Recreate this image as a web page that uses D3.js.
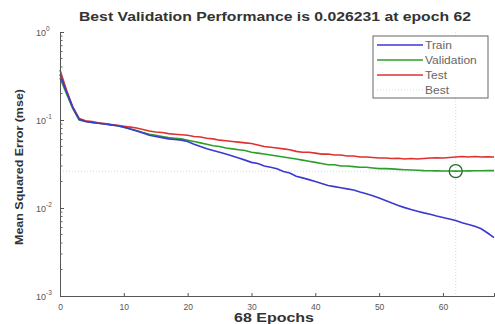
<!DOCTYPE html>
<html>
<head>
<meta charset="utf-8">
<script src="https://cdn.jsdelivr.net/npm/d3@7"></script>
<style>
  body { margin: 0; background: #fff; }
  svg text { font-family: "Liberation Sans", Arial, sans-serif; }
</style>
</head>
<body>
<div id="graphicContainer"></div>
<script>
// epochs 0..68
var epochs = d3.range(0, 69)

var train = [0.33, 0.21, 0.14, 0.102, 0.096, 0.094, 0.092, 0.090, 0.088, 0.086,
	0.083, 0.079, 0.075, 0.071, 0.067, 0.065, 0.063, 0.061, 0.060, 0.059,
	0.057, 0.053, 0.050, 0.047, 0.045, 0.043, 0.041, 0.039, 0.037, 0.035,
	0.033, 0.032, 0.030, 0.029, 0.028, 0.026, 0.025, 0.023, 0.022, 0.021,
	0.020, 0.019, 0.018, 0.0175, 0.017, 0.0165, 0.016, 0.0152, 0.0145, 0.0138,
	0.013, 0.0122, 0.0114, 0.0107, 0.0101, 0.0096, 0.0092, 0.0088, 0.0085, 0.0081,
	0.0078, 0.0075, 0.0072, 0.0068, 0.0065, 0.0062, 0.0058, 0.0052, 0.0046]

var validation = [0.30, 0.20, 0.135, 0.10, 0.096, 0.094, 0.092, 0.090, 0.088, 0.086,
	0.083, 0.079, 0.076, 0.072, 0.069, 0.067, 0.065, 0.063, 0.062, 0.061,
	0.059, 0.057, 0.055, 0.053, 0.051, 0.050, 0.048, 0.047, 0.046, 0.045,
	0.043, 0.042, 0.041, 0.040, 0.039, 0.038, 0.037, 0.036, 0.035, 0.034,
	0.033, 0.032, 0.031, 0.031, 0.030, 0.030, 0.0295, 0.029, 0.029, 0.0285,
	0.028, 0.028, 0.0278, 0.0275, 0.0272, 0.027, 0.0268, 0.0266, 0.0265, 0.0264,
	0.0263, 0.0263, 0.026231, 0.0263, 0.0264, 0.0265, 0.0265, 0.0266, 0.0266]

var test = [0.37, 0.22, 0.14, 0.104, 0.098, 0.096, 0.093, 0.091, 0.089, 0.087,
	0.085, 0.083, 0.081, 0.078, 0.075, 0.073, 0.072, 0.070, 0.069, 0.068,
	0.067, 0.065, 0.064, 0.062, 0.061, 0.059, 0.058, 0.057, 0.056, 0.055,
	0.054, 0.052, 0.050, 0.049, 0.048, 0.047, 0.046, 0.044, 0.043, 0.043,
	0.042, 0.041, 0.041, 0.040, 0.040, 0.039, 0.039, 0.038, 0.038, 0.0375,
	0.037, 0.037, 0.0365, 0.0368, 0.036, 0.0365, 0.036, 0.0365, 0.037, 0.0372,
	0.037, 0.0375, 0.038, 0.0385, 0.038, 0.0385, 0.038, 0.0382, 0.038]

var bestEpoch = 62
var bestValue = 0.026231

var xTicks = [0, 10, 20, 30, 40, 50, 60]
var yTicks = [1, 0.1, 0.01, 0.001]
var yTickExp = ["0", "-1", "-2", "-3"]

var seriesNames = ["Train", "Validation", "Test", "Best"]
var seriesColors = ["#3a3ad0", "#2aa02a", "#e03030", "#c8dede"]

var width = 495, height = 324
var margin = {top: 32, right: 1, bottom: 28, left: 60}

var svg = d3.select("#graphicContainer").append("svg")
	.attr("width", width)
	.attr("height", height)

var x = d3.scaleLinear()
	.domain([0, 68])
	.range([margin.left, width - margin.right])

var y = d3.scaleLog()
	.domain([0.001, 1])
	.range([height - margin.bottom, margin.top])

// best lines (dotted)
svg.append("line")
	.attr("x1", x(0)).attr("x2", x(68))
	.attr("y1", y(bestValue)).attr("y2", y(bestValue))
	.attr("stroke", seriesColors[3]).attr("stroke-width", 1)
	.attr("stroke-dasharray", "1,2")

svg.append("line")
	.attr("x1", x(bestEpoch)).attr("x2", x(bestEpoch))
	.attr("y1", y(1)).attr("y2", y(0.001))
	.attr("stroke", seriesColors[3]).attr("stroke-width", 1)
	.attr("stroke-dasharray", "1,2")

var line = d3.line()
	.x(function(d, i) { return x(epochs[i]) })
	.y(function(d) { return y(d) })

svg.append("path").datum(validation)
	.attr("d", line).attr("fill", "none")
	.attr("stroke", seriesColors[1]).attr("stroke-width", 1.6)

svg.append("path").datum(test)
	.attr("d", line).attr("fill", "none")
	.attr("stroke", seriesColors[2]).attr("stroke-width", 1.6)

svg.append("path").datum(train)
	.attr("d", line).attr("fill", "none")
	.attr("stroke", seriesColors[0]).attr("stroke-width", 1.6)

// best point circle
svg.append("circle")
	.attr("cx", x(bestEpoch)).attr("cy", y(bestValue))
	.attr("r", 6.5)
	.attr("fill", "none")
	.attr("stroke", "#2a6a2a")
	.attr("stroke-width", 1.3)

// x axis
var xAxis = d3.axisBottom(x)
	.tickValues(xTicks)
	.tickSize(-3)
	.tickPadding(8)

var gx = svg.append("g")
	.attr("transform", "translate(0," + y(0.001) + ")")
	.call(xAxis)
gx.select(".domain").attr("stroke", "#555")
gx.selectAll(".tick line").attr("stroke", "#555")
gx.selectAll("text").attr("fill", "#555").attr("font-size", 8.5).style("font-family", "Liberation Sans, Arial, sans-serif")

// y axis with minor ticks
var minor = []
for (var e = -3; e < 0; e++) {
	for (var m = 2; m <= 9; m++) minor.push(m * Math.pow(10, e))
}

var gy = svg.append("g")
	.attr("transform", "translate(" + x(0) + ",0)")
	.call(d3.axisLeft(y).tickValues(yTicks).tickSize(-4).tickFormat(""))
gy.select(".domain").attr("stroke", "#555")
gy.selectAll(".tick line").attr("stroke", "#555")

gy.selectAll(".minor")
	.data(minor)
	.enter()
	.append("line")
	.attr("x1", 0).attr("x2", 2.5)
	.attr("y1", function(d) { return y(d) })
	.attr("y2", function(d) { return y(d) })
	.attr("stroke", "#666")

yTicks.forEach(function(t, i) {
	svg.append("text")
		.attr("x", x(0) - 14)
		.attr("y", y(t) + 4)
		.attr("text-anchor", "end")
		.attr("font-size", 9)
		.attr("fill", "#555")
		.text("10")
	svg.append("text")
		.attr("x", x(0) - 14)
		.attr("y", y(t) - 1)
		.attr("font-size", 6.5)
		.attr("fill", "#555")
		.text(yTickExp[i])
})

// title and labels
svg.append("text")
	.attr("x", 275).attr("y", 21)
	.attr("text-anchor", "middle")
	.attr("font-size", 12).attr("font-weight", "bold")
	.attr("fill", "#333")
	.attr("textLength", 392).attr("lengthAdjust", "spacingAndGlyphs")
	.text("Best Validation Performance is 0.026231 at epoch 62")

svg.append("text")
	.attr("x", 274).attr("y", 322)
	.attr("text-anchor", "middle")
	.attr("font-size", 12).attr("font-weight", "bold")
	.attr("fill", "#333")
	.attr("textLength", 80).attr("lengthAdjust", "spacingAndGlyphs")
	.text("68 Epochs")

svg.append("text")
	.attr("transform", "translate(23,167)rotate(-90)")
	.attr("text-anchor", "middle")
	.attr("font-size", 11).attr("font-weight", "bold")
	.attr("fill", "#333")
	.attr("textLength", 156).attr("lengthAdjust", "spacingAndGlyphs")
	.text("Mean Squared Error  (mse)")

// legend
var legend = svg.append("g").attr("transform", "translate(373,36)")
legend.append("rect")
	.attr("width", 115).attr("height", 62)
	.attr("fill", "#fff").attr("stroke", "#666").attr("stroke-width", 1)

seriesNames.forEach(function(name, i) {
	var ly = 9 + i * 15
	legend.append("line")
		.attr("x1", 4).attr("x2", 50)
		.attr("y1", ly).attr("y2", ly)
		.attr("stroke", seriesColors[i])
		.attr("stroke-width", i < 3 ? 1.6 : 1)
		.attr("stroke-dasharray", i < 3 ? null : "1,2")
	legend.append("text")
		.attr("transform", "translate(52," + (ly + 4) + ")scale(1.2,1)")
		.attr("font-size", 10).attr("fill", "#666")
		.text(name)
})
</script>
</body>
</html>
